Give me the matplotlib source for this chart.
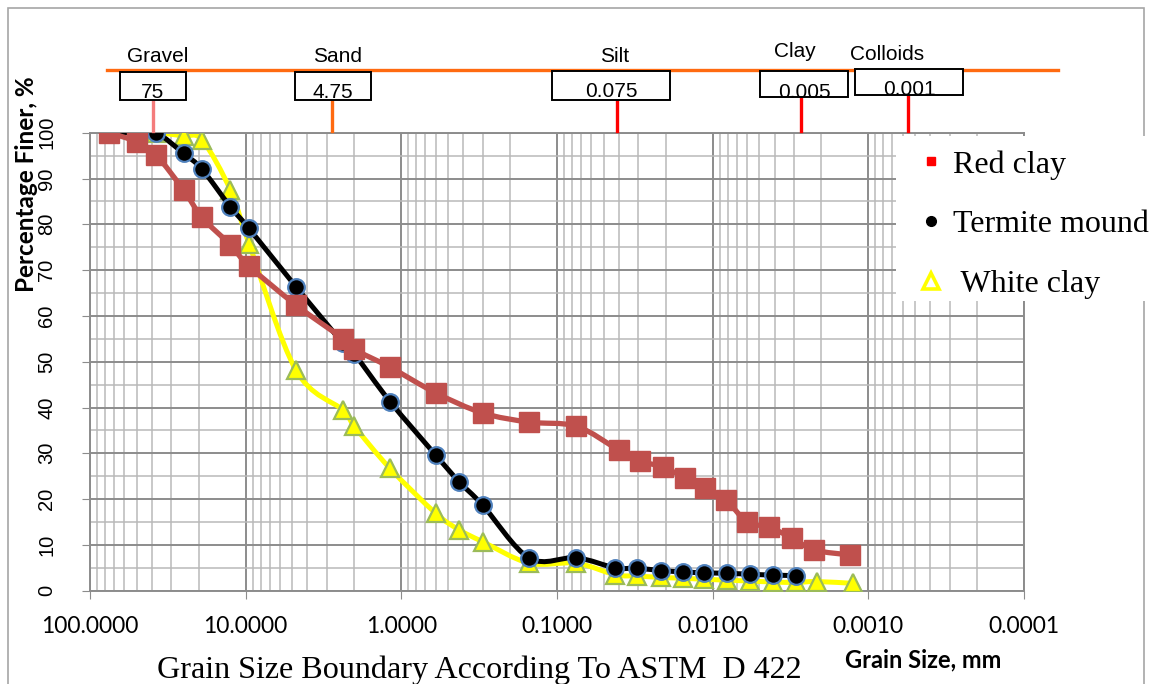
import numpy as np
import matplotlib.pyplot as plt
from matplotlib.lines import Line2D
from matplotlib.patches import Rectangle, PathPatch
from matplotlib.path import Path
from matplotlib.ticker import LogLocator, MultipleLocator, FixedLocator

# grain size (mm) and percent finer
red_size = [75, 50, 37.5, 25, 19, 12.5, 9.5, 4.75, 2.36, 2.0, 1.18, 0.6, 0.3, 0.15, 0.075,
            0.040, 0.0292, 0.0208, 0.0150, 0.0112, 0.0082, 0.0060, 0.00434, 0.00309, 0.00223, 0.00131]
red_pct = [100, 98.0, 95.1, 87.5, 81.5, 75.5, 70.9, 62.4, 55.0, 52.7, 48.8, 43.2, 38.8, 36.8, 35.9,
           30.7, 28.3, 27.0, 24.6, 22.4, 19.8, 15.0, 13.9, 11.5, 8.9, 7.8]

termite_size = [75, 50, 37.5, 25, 19, 12.5, 9.5, 4.75, 2.36, 2.0, 1.18, 0.6, 0.425, 0.3, 0.15, 0.075,
                0.0424, 0.0305, 0.0215, 0.0154, 0.0113, 0.0081, 0.00575, 0.0041, 0.0029]
termite_pct = [100, 100, 100, 95.5, 92.0, 83.8, 79.1, 66.4, 54.0, 51.7, 41.3, 29.6, 23.8, 18.7, 7.1, 7.2,
               5.0, 4.9, 4.4, 4.1, 3.9, 3.8, 3.6, 3.4, 3.3]

white_size = [37.5, 25, 19, 12.5, 9.5, 4.75, 2.36, 2.0, 1.18, 0.6, 0.425, 0.3, 0.15, 0.075,
              0.0424, 0.0305, 0.0215, 0.0154, 0.0113, 0.0081, 0.00575, 0.0041, 0.0029, 0.00215, 0.00125]
white_pct = [100, 99.3, 98.4, 87.5, 75.8, 48.2, 39.4, 35.9, 26.7, 16.9, 13.3, 10.7, 6.0, 6.0,
             3.5, 3.2, 2.9, 2.7, 2.5, 2.3, 2.1, 1.9, 1.8, 2.0, 1.6]

x_ticks = [100, 10, 1, 0.1, 0.01, 0.001, 0.0001]
y_ticks = list(range(0, 101, 10))

# soil classes across the top and their boundary sizes
classes = ["Gravel", "Sand", "Silt", "Clay", "Colloids"]
boundaries = ["75", "4.75", "0.075", "0.005", "0.001"]

W, H = 1153, 684


def fx(px):
    return px / W


def fy(py):
    return 1 - py / H


def smooth_path(xs, ys):
    # excel style smoothed line: bezier segments built in log-x space
    lx = np.log10(xs)
    y = np.asarray(ys, float)
    n = len(lx)
    verts = [(xs[0], y[0])]
    codes = [Path.MOVETO]
    for i in range(n - 1):
        a = max(i - 1, 0)
        b = min(i + 2, n - 1)
        c1 = (lx[i] + (lx[i + 1] - lx[a]) / 6, y[i] + (y[i + 1] - y[a]) / 6)
        c2 = (lx[i + 1] - (lx[b] - lx[i]) / 6, y[i + 1] - (y[b] - y[i]) / 6)
        verts += [(10 ** c1[0], c1[1]), (10 ** c2[0], c2[1]), (xs[i + 1], y[i + 1])]
        codes += [Path.CURVE4] * 3
    return Path(verts, codes)


fig = plt.figure(figsize=(W / 100, H / 100), dpi=100)
ax = fig.add_axes([fx(89.8), fy(590.7), fx(1024 - 89.8), (590.7 - 132.7) / H])

ax.set_xscale("log")
ax.set_xlim(100, 0.0001)
ax.set_ylim(0, 100)

ax.xaxis.set_major_locator(FixedLocator(x_ticks))
ax.xaxis.set_minor_locator(LogLocator(base=10, subs=range(2, 10), numticks=20))
ax.set_xticklabels(["%.4f" % v for v in x_ticks], fontsize=16.5, family="Lato")
ax.yaxis.set_major_locator(FixedLocator(y_ticks))
ax.yaxis.set_minor_locator(MultipleLocator(5))
ax.set_yticklabels([str(v) for v in y_ticks], rotation=90, va="center",
                   fontsize=14.5, family="Liberation Sans")

ax.grid(which="major", color="#8c8c8c", lw=1.4)
ax.grid(which="minor", color="#b9b9b9", lw=1.1)
ax.set_axisbelow(True)
for s in ax.spines.values():
    s.set_color("#8c8c8c")
    s.set_linewidth(1.4)
ax.tick_params(axis="x", which="major", length=6, color="#8c8c8c", pad=12)
ax.tick_params(axis="y", which="major", length=6, color="#8c8c8c", pad=18)
ax.tick_params(which="minor", length=0)

# white clay (bottom), termite mound, red clay (top)
ax.add_patch(PathPatch(smooth_path(white_size, white_pct), fill=False, edgecolor="#FFFF00",
                       lw=3.6, capstyle="round", joinstyle="round", zorder=2))
ax.plot(white_size, white_pct, ls="none", marker="^", ms=13, mfc="#FFFF00", mec="#9BBB59",
        mew=1.6, zorder=3)
ax.add_patch(PathPatch(smooth_path(termite_size, termite_pct), fill=False, edgecolor="black",
                       lw=3.6, capstyle="round", joinstyle="round", zorder=4))
ax.plot(termite_size, termite_pct, ls="none", marker="o", ms=12, mfc="black", mec="#4F81BD",
        mew=1.6, zorder=5)
ax.add_patch(PathPatch(smooth_path(red_size, red_pct), fill=False, edgecolor="#C0504D",
                       lw=3.8, capstyle="round", joinstyle="round", zorder=6))
ax.plot(red_size, red_pct, ls="none", marker="s", ms=14, mfc="#C0504D", mec="#C0504D",
        zorder=7)

# outer frame of the chart
fig.add_artist(Rectangle((fx(8), fy(700)), fx(1144 - 8), (700 - 8) / H, fill=False,
                         edgecolor="#a6a6a6", lw=1.2, zorder=1))

# class bar across the top
fig.add_artist(Line2D([fx(106.5), fx(1058)], [fy(70), fy(70)], color="#FF6A10", lw=2.4, zorder=2))
class_x = [158, 338, 615, 795, 887]
class_base = [62, 62, 62, 57, 60]
for name, cx, cb in zip(classes, class_x, class_base):
    fig.text(fx(cx), fy(cb), name, ha="center", va="baseline", fontsize=15,
             family="Liberation Sans")

boxes = [(120, 72, 186, 100), (295, 72, 371, 100), (552, 71, 670, 100),
         (760, 71, 848, 97), (855, 69, 963, 95)]
num_base = [98, 98, 97, 98, 95]
stick_x = [153, 332, 617, 801, 908]
stick_c = ["#F47C7C", "#FF6A10", "#FF0000", "#FF0000", "#FF0000"]
for val, (x0, y0, x1, y1), nb, sx, sc in zip(boundaries, boxes, num_base, stick_x, stick_c):
    fig.add_artist(Line2D([fx(sx), fx(sx)], [fy(y1), fy(131)], color=sc, lw=2.4, zorder=3))
    fig.add_artist(Rectangle((fx(x0), fy(y1)), fx(x1 - x0), (y1 - y0) / H, facecolor="white",
                             edgecolor="black", lw=1.4, zorder=3))
    fig.text(fx((x0 + x1) / 2), fy(nb), val, ha="center", va="baseline", fontsize=15,
             family="Liberation Sans", zorder=4)

# axis titles
fig.text(fx(27), fy(184), "Percentage Finer, %", rotation=90, ha="center", va="center",
         fontsize=17.5, fontweight="bold", family="Lato")
fig.text(fx(923), fy(667), "Grain Size, mm", ha="center", va="baseline", fontsize=17,
         fontweight="bold", family="Lato")
fig.text(fx(479.5), fy(678), "Grain Size Boundary According To ASTM  D 422", ha="center",
         va="baseline", fontsize=23.1, family="Liberation Serif")

# legend sits on a white patch that hides the grid behind it
fig.add_artist(Rectangle((fx(896), fy(301)), fx(W - 896), (301 - 136) / H, facecolor="white",
                         edgecolor="none", zorder=4))
handles = [
    Line2D([], [], ls="none", marker="s", ms=6, mfc="#FF0000", mec="#FF0000"),
    Line2D([], [], ls="none", marker="o", ms=7, mfc="black", mec="black"),
    Line2D([], [], ls="none", marker="^", ms=12, mfc="white", mec="#FFFF00", mew=2.6),
]
labels = ["Red clay", "Termite mound", " White clay"]
leg = fig.legend(handles, labels, loc="upper left", bbox_to_anchor=(fx(918), fy(150)),
                 frameon=False, prop={"family": "Liberation Serif", "size": 23},
                 handlelength=0.8, handletextpad=0.3, labelspacing=0.95, borderpad=0,
                 borderaxespad=0)
leg.set_zorder(5)

fig.savefig("out.png", dpi=100)
